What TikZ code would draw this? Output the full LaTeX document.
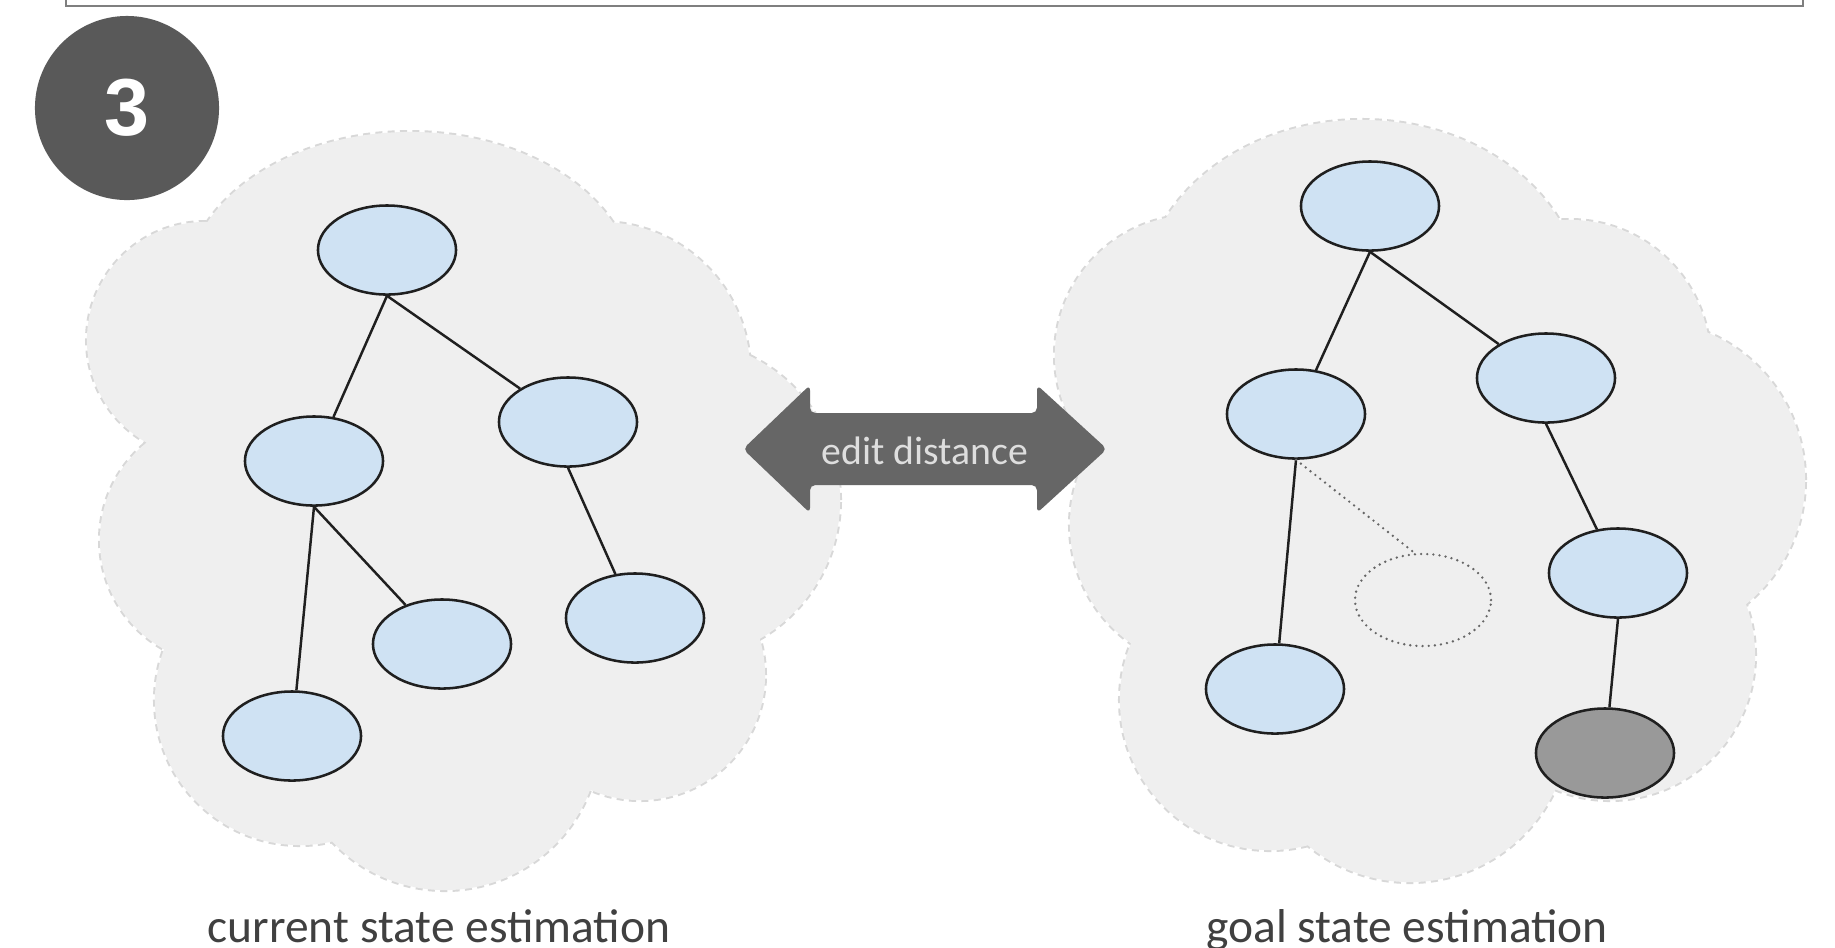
\documentclass[tikz,border=0pt]{standalone}
\usepackage{fontspec}
\setmainfont{Carlito}
\newfontfamily\numfont{Liberation Sans}
\usetikzlibrary{shapes.geometric}
\definecolor{nodeblue}{HTML}{CFE2F3}
\definecolor{darknode}{HTML}{999999}
\definecolor{cloudfill}{HTML}{EFEFEF}
\definecolor{cloudline}{HTML}{D8D8D8}
\definecolor{badgegray}{HTML}{595959}
\definecolor{arrowgray}{HTML}{666666}
\definecolor{arrowtext}{HTML}{DEDEDE}
\definecolor{labelgray}{HTML}{404040}
\definecolor{boxgray}{HTML}{7F7F7F}
\tikzset{
  treenode/.style={ellipse, draw=black!88, line width=0.72pt, fill=nodeblue,
    minimum width=13.8mm, minimum height=8.9mm, inner sep=0pt},
  darktreenode/.style={treenode, fill=darknode},
  ghostnode/.style={ellipse, draw=black!60, line width=0.75pt, line cap=round,
    dash pattern=on 0pt off 1.75pt, fill=none,
    minimum width=13.6mm, minimum height=9.2mm, inner sep=0pt},
  edge/.style={draw=black!88, line width=0.7pt},
  ghostedge/.style={draw=black!60, line width=0.75pt, line cap=round, dash pattern=on 0pt off 1.75pt},
  labeltext/.style={font=\fontsize{13.5}{15}\selectfont, text=labelgray, anchor=base, inner sep=0pt},
}
\def\leftcloud{%
  (410,292) ellipse [x radius=22.5mm, y radius=16mm]
  (205,340) circle [radius=11.8mm]
  (225,540) circle [radius=12.5mm]
  (300,700) circle [radius=14.5mm]
  (445,735) circle [radius=15.5mm]
  (640,675) circle [radius=12.5mm]
  (680,500) circle [radius=16mm]
  (600,372) circle [radius=15mm]
  (450,500) circle [radius=29mm]}
\def\rightcloud{%
  (1362,300) ellipse [x radius=22mm, y radius=18mm]
  (1195,355) circle [radius=14mm]
  (1215,525) circle [radius=14.5mm]
  (1270,700) circle [radius=15mm]
  (1410,722) circle [radius=16mm]
  (1610,655) circle [radius=14.5mm]
  (1645,480) circle [radius=16mm]
  (1570,360) circle [radius=14mm]
  (1420,500) circle [radius=29mm]}
\begin{document}
\begin{tikzpicture}[x=0.01cm, y=-0.01cm]
\useasboundingbox (0,0) rectangle (1835,947);
\clip (0,0) rectangle (1835,947);
\fill[white] (0,0) rectangle (1835,947);
% top frame
\draw[boxgray, line width=0.6pt] (66,-30) rectangle (1803,6);
% clouds
\path[draw=cloudline, line width=1.1pt, dash pattern=on 2pt off 1.5pt] \leftcloud;
\path[draw=cloudline, line width=1.1pt, dash pattern=on 2pt off 1.5pt] \rightcloud;
\path[fill=cloudfill] \leftcloud;
\path[fill=cloudfill] \rightcloud;
% badge
\node[circle, fill=badgegray, minimum size=18.4mm, inner sep=0pt, text=white,
  font=\numfont\bfseries\fontsize{23}{26}\selectfont] (badge) at (127,108) {3};
% edit distance arrow
\fill[arrowgray, rounded corners=1.5pt] (743,449) -- (810,385) -- (810,413) -- (1037,413)
  -- (1037,385) -- (1107,449) -- (1037,513) -- (1037,485) -- (810,485) -- (810,513) -- cycle;
\node[text=arrowtext, font=\fontsize{11.3}{13}\selectfont, inner sep=0pt] (ed) at (925,451) {edit distance};
% left tree
\node[treenode] (lroot) at (387,250) {};
\node[treenode] (lr) at (568,422) {};
\node[treenode] (ll) at (314,461) {};
\node[treenode] (lll) at (292,736) {};
\node[treenode] (llr) at (442,644) {};
\node[treenode] (lrl) at (635,618) {};
\draw[edge] (lroot.south) -- (ll);
\draw[edge] (lroot.south) -- (lr);
\draw[edge] (ll.south) -- (lll);
\draw[edge] (ll.south) -- (llr);
\draw[edge] (lr.south) -- (lrl);
% right tree
\node[treenode] (rroot) at (1370,206) {};
\node[treenode] (rr) at (1546,378) {};
\node[treenode] (rl) at (1296,414) {};
\node[treenode] (rll) at (1275,689) {};
\node[treenode] (rrc) at (1618,573) {};
\node[darktreenode] (rrd) at (1605,753) {};
\node[ghostnode] (ghost) at (1423,600) {};
\draw[edge] (rroot.south) -- (rl);
\draw[edge] (rroot.south) -- (rr);
\draw[edge] (rl.south) -- (rll);
\draw[edge] (rr.south) -- (rrc);
\draw[edge] (rrc.south) -- (rrd);
\draw[ghostedge] (rl.south) -- (ghost.100);
% labels
\node[labeltext] (lab1) at (439,942) {current state estimation};
\node[labeltext] (lab2) at (1407,942) {goal state estimation};
\end{tikzpicture}
\end{document}
